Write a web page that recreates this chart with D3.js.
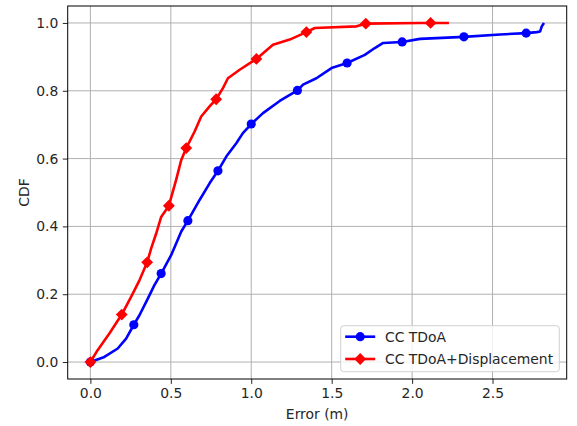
<!DOCTYPE html>
<html>
<head>
<meta charset="utf-8">
<script src="https://cdn.jsdelivr.net/npm/d3@7"></script>
<style>
  html, body { margin: 0; padding: 0; background: #fff; }
  svg { display: block; font-family: "DejaVu Sans", sans-serif; }
</style>
</head>
<body>
<svg id="chart" width="577" height="426"></svg>
<script>
// Empirical CDF of localisation error for the two methods.
const tdoaError = [0, 0.087, 0.17, 0.222, 0.27, 0.305, 0.357, 0.398, 0.44, 0.502, 0.565, 0.606, 0.679, 0.741, 0.793, 0.845, 0.907, 0.948, 1.0, 1.073, 1.177, 1.287, 1.322, 1.405, 1.499, 1.596, 1.706, 1.768, 1.82, 1.938, 2.049, 2.322, 2.547, 2.709, 2.775, 2.796, 2.806, 2.82];
const tdoaCdf   = [0, 0.015, 0.04, 0.069, 0.11, 0.138, 0.187, 0.227, 0.261, 0.315, 0.385, 0.417, 0.478, 0.527, 0.564, 0.606, 0.645, 0.675, 0.702, 0.734, 0.77, 0.801, 0.818, 0.837, 0.867, 0.882, 0.906, 0.926, 0.941, 0.944, 0.953, 0.959, 0.966, 0.97, 0.973, 0.975, 0.99, 1.0];
const tdoaMarks = [0, 4, 8, 11, 14, 18, 21, 25, 29, 31, 33];

const dispError = [0, 0.045, 0.118, 0.195, 0.253, 0.305, 0.353, 0.378, 0.409, 0.44, 0.488, 0.533, 0.565, 0.596, 0.648, 0.689, 0.741, 0.782, 0.824, 0.855, 0.928, 1.032, 1.135, 1.239, 1.343, 1.395, 1.654, 1.712, 2.049, 2.115, 2.229];
const dispCdf   = [0, 0.035, 0.084, 0.14, 0.192, 0.241, 0.294, 0.335, 0.379, 0.428, 0.461, 0.537, 0.596, 0.631, 0.68, 0.724, 0.754, 0.775, 0.808, 0.837, 0.862, 0.894, 0.936, 0.951, 0.973, 0.985, 0.99, 0.998, 1.0, 1.0, 1.0];
const dispMarks = [0, 3, 6, 10, 13, 17, 21, 24, 27, 29];

const xTicks = [0, 0.5, 1.0, 1.5, 2.0, 2.5];
const yTicks = [0, 0.2, 0.4, 0.6, 0.8, 1.0];
const seriesNames = ["CC TDoA", "CC TDoA+Displacement"];
const seriesColors = ["#0000ff", "#ff0000"];

const FS = 13.9;
const svg = d3.select("#chart");
const margin = { left: 67.7, right: 577 - 566.7, top: 6, bottom: 426 - 379 };
const W = 577 - margin.left - margin.right;
const H = 426 - margin.top - margin.bottom;
const g = svg.append("g").attr("transform", `translate(${margin.left},${margin.top})`);

const xMax = d3.max(tdoaError);
const x = d3.scaleLinear().domain([-0.05 * xMax, 1.05 * xMax]).range([0, W]);
const y = d3.scaleLinear().domain([-0.05, 1.05]).range([H, 0]);

// grid
g.append("g").selectAll("line").data(xTicks).join("line")
  .attr("x1", d => x(d)).attr("x2", d => x(d)).attr("y1", 0).attr("y2", H)
  .attr("stroke", "#b0b0b0").attr("stroke-width", 1);
g.append("g").selectAll("line").data(yTicks).join("line")
  .attr("y1", d => y(d)).attr("y2", d => y(d)).attr("x1", 0).attr("x2", W)
  .attr("stroke", "#b0b0b0").attr("stroke-width", 1);

// axes
const fmt = d3.format(".1f");
const xAxis = g.append("g").attr("transform", `translate(0,${H})`)
  .call(d3.axisBottom(x).tickValues(xTicks).tickFormat(fmt).tickSizeOuter(0).tickSize(4.9).tickPadding(4.2));
const yAxis = g.append("g")
  .call(d3.axisLeft(y).tickValues(yTicks).tickFormat(fmt).tickSizeOuter(0).tickSize(4.9).tickPadding(4.5));
[xAxis, yAxis].forEach(a => {
  a.select(".domain").remove();
  a.selectAll("text").attr("font-size", FS).attr("fill", "#262626").attr("font-family", "DejaVu Sans");
  a.selectAll("line").attr("stroke", "#262626").attr("stroke-width", 1);
});

// curves: circles for plain TDoA, square-on-point diamonds for the displacement variant
const line = d3.line().x(d => x(d[0])).y(d => y(d[1]));
const series = [
  { pts: d3.zip(tdoaError, tdoaCdf), marks: tdoaMarks, symbol: d3.symbolCircle, size: 66, rot: 0 },
  { pts: d3.zip(dispError, dispCdf), marks: dispMarks, symbol: d3.symbolSquare, size: 70, rot: 45 }
];
series.forEach((s, i) => {
  const sg = g.append("g");
  sg.append("path").datum(s.pts).attr("d", line)
    .attr("fill", "none").attr("stroke", seriesColors[i]).attr("stroke-width", 2.6)
    .attr("stroke-linejoin", "round").attr("stroke-linecap", "butt");
  sg.selectAll("path.mk").data(s.marks.map(k => s.pts[k])).join("path").attr("class", "mk")
    .attr("transform", d => `translate(${x(d[0])},${y(d[1])}) rotate(${s.rot})`)
    .attr("d", d3.symbol().type(s.symbol).size(s.size))
    .attr("fill", seriesColors[i]);
});

// frame
g.append("rect").attr("width", W).attr("height", H)
  .attr("fill", "none").attr("stroke", "#000").attr("stroke-width", 1);

// axis titles
g.append("text").attr("x", W / 2).attr("y", H + 39.5).attr("text-anchor", "middle")
  .attr("font-size", FS).attr("fill", "#262626").text("Error (m)");
svg.append("text").attr("transform", `translate(29,${margin.top + H / 2}) rotate(-90)`)
  .attr("text-anchor", "middle").attr("font-size", FS).attr("fill", "#262626").text("CDF");

// legend
const lg = g.append("g").attr("transform", `translate(${340.7 - margin.left},${325.7 - margin.top})`);
lg.append("rect").attr("width", 218.6).attr("height", 46).attr("rx", 3)
  .attr("fill", "#fff").attr("fill-opacity", 0.8).attr("stroke", "#d0d0d0").attr("stroke-width", 1);
seriesNames.forEach((name, i) => {
  const cy = 11 + i * 22.3;
  lg.append("line").attr("x1", 4.5).attr("x2", 34.5).attr("y1", cy).attr("y2", cy)
    .attr("stroke", seriesColors[i]).attr("stroke-width", 2.6);
  lg.append("path").attr("transform", `translate(19.5,${cy}) rotate(${series[i].rot})`)
    .attr("d", d3.symbol().type(series[i].symbol).size(series[i].size)).attr("fill", seriesColors[i]);
  lg.append("text").attr("x", 44.3).attr("y", cy).attr("dy", "0.36em")
    .attr("font-size", FS).attr("fill", "#262626").text(name);
});
</script>
</body>
</html>
